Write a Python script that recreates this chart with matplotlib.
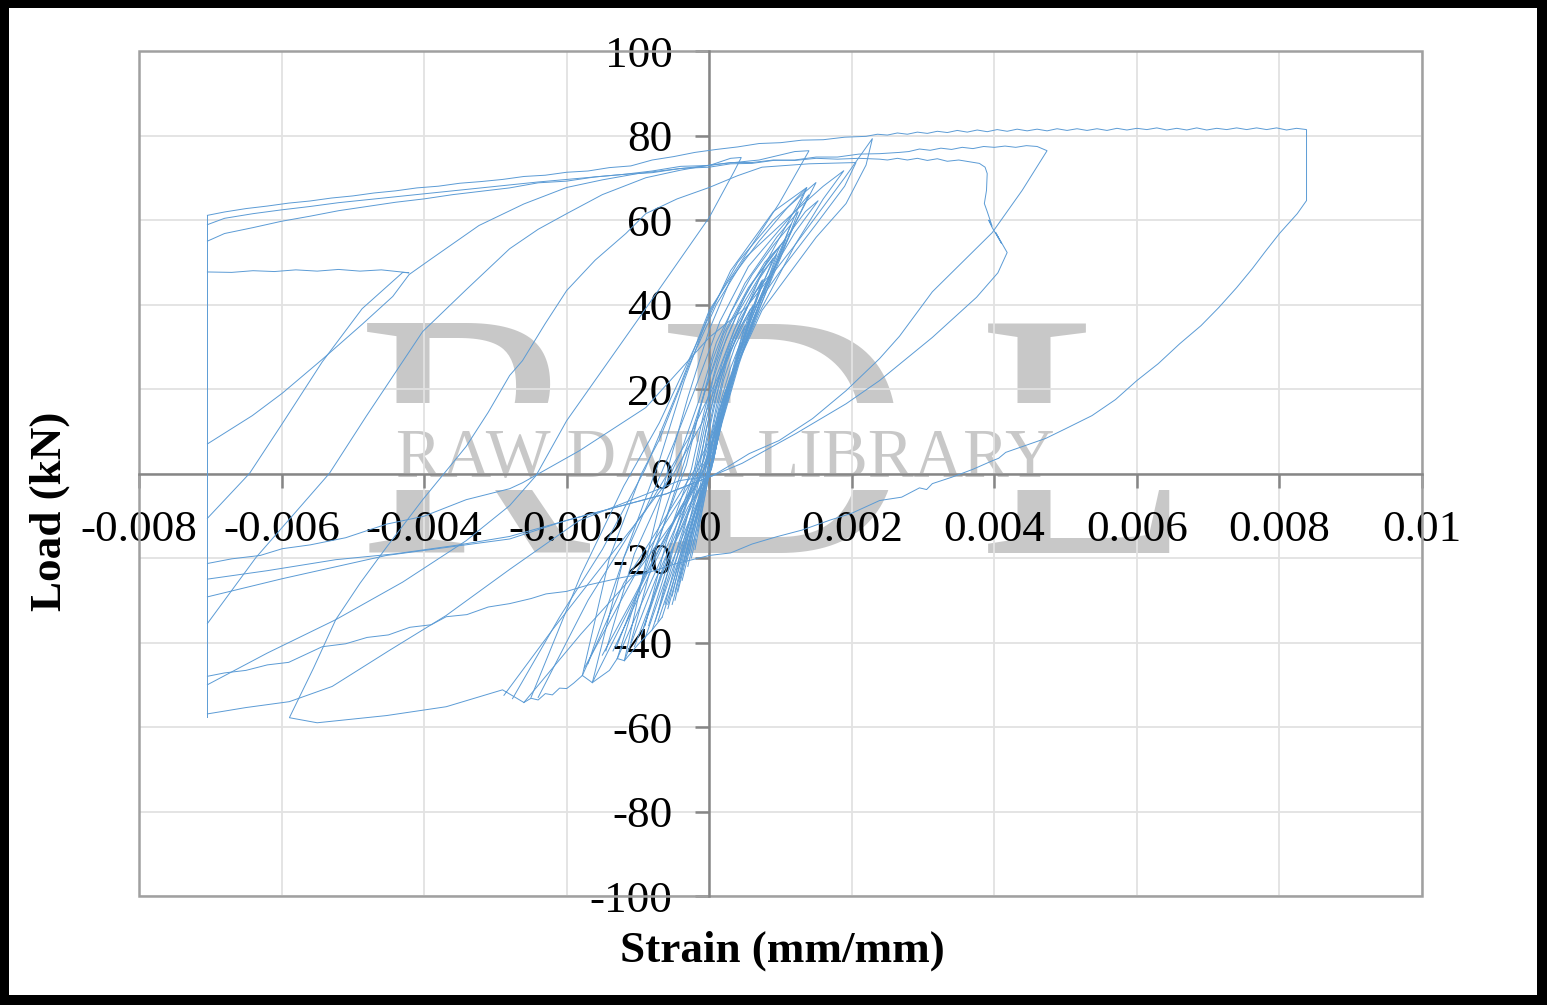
import matplotlib
matplotlib.use('Agg')
import matplotlib.pyplot as plt
from matplotlib.patches import Rectangle

W, H = 1547, 1005
LINE = '#5B9BD5'
MARK = '#C8C8C8'
SERIF = 'Liberation Serif'

x_ticks = [-0.008, -0.006, -0.004, -0.002, 0, 0.002, 0.004, 0.006, 0.008, 0.01]
x_tick_labels = ['-0.008', '-0.006', '-0.004', '-0.002', '0', '0.002', '0.004', '0.006', '0.008', '0.01']
y_ticks = [-100, -80, -60, -40, -20, 0, 20, 40, 60, 80, 100]
y_tick_labels = ['-100', '-80', '-60', '-40', '-20', '0', '20', '40', '60', '80', '100']

# strain below is in units of 1e-3 mm/mm, load in kN
# biggest excursion, ends on the top plateau
s_big = [-7.04, -6.8, -6.5, -6.2, -5.9, -5.43, -5.1, -4.8, -4.5, -4.2, -3.9, -3.69, -3.4, -3.1, -2.8, -2.5, -2.29, -2.0, -1.7, -1.22, -0.9, -0.5, 0, 0.3, 0.6, 0.94, 1.3, 1.7, 2.0, 2.39, 2.7, 2.95, 3.05, 3.13, 3.4, 3.7, 3.97, 4.06, 4.16, 4.72, 5.0, 5.37, 5.7, 6.0, 6.3, 6.6, 6.9, 7.15, 7.4, 7.62, 7.8, 8.0, 8.25, 8.38,
         8.38, 8.38, 8.24, 8.10, 7.96, 7.82, 7.68, 7.54, 7.40, 7.26, 7.12, 6.98, 6.84, 6.70, 6.56, 6.42, 6.28, 6.14, 6.00, 5.86, 5.72, 5.58, 5.44, 5.30, 5.16, 5.02, 4.88, 4.74, 4.60, 4.46, 4.32, 4.18, 4.04, 3.90, 3.76, 3.62, 3.48, 3.34, 3.20, 3.06, 2.92, 2.78, 2.64, 2.50, 2.36,
         2.2, 1.9, 1.6, 1.3, 1.0, 0.7, 0.4, 0.1, -0.2, -0.5, -0.8, -1.1, -1.4, -1.7, -2.0, -2.3, -2.6, -2.9, -3.2, -3.5, -3.8, -4.1, -4.4, -4.7, -5.0, -5.3, -5.6, -5.9, -6.2, -6.5, -6.8, -7.04]
l_big = [-48, -47.2, -46.6, -45.3, -44.7, -41, -40.3, -38.8, -38.2, -36.4, -35.8, -33.9, -33.4, -31.6, -30.8, -29.6, -28.5, -27.9, -26.4, -24.6, -23.7, -21.5, -19.4, -18.8, -16.7, -15, -13.4, -11, -9.4, -6.4, -5.6, -3.4, -3.8, -2.4, -0.9, 1, 3, 3.6, 5, 8.3, 10.6, 13.7, 17.5, 22, 26, 30.7, 35, 39.3, 44, 48.5, 52.5, 56.8, 61.5, 64.6,
         72, 81.4, 81.7, 81.3, 81.8, 81.4, 81.8, 81.4, 81.8, 81.4, 81.7, 81.3, 81.8, 81.3, 81.7, 81.3, 81.8, 81.4, 81.7, 81.3, 81.7, 81.2, 81.6, 81.2, 81.6, 81.2, 81.6, 81.1, 81.5, 81.1, 81.5, 81.0, 81.4, 80.9, 81.3, 80.8, 81.2, 80.7, 81.0, 80.5, 80.8, 80.3, 80.6, 80.1, 80.3,
         79.8, 79.6, 79.0, 78.9, 78.3, 78.1, 77.3, 76.7, 76.0, 75.0, 74.2, 72.8, 72.4, 71.6, 71.3, 70.6, 70.3, 69.6, 69.1, 68.7, 68.0, 67.6, 66.9, 66.4, 65.7, 65.2, 64.5, 64.0, 63.3, 62.7, 61.9, 61.1]

# vertical run at the strain limit
s_limit = [-7.04, -7.04]
l_limit = [61.1, -57.7]

# last loop, ends at the kinked curve and the third plateau
s_third = [-7.04, -6.5, -5.89, -5.29, -4.49, -3.69, -2.8, -1.82, -0.9, -0.42, 0.05, 0.46, 1.22, 1.92, 2.39, 3.13, 3.75, 4.05, 4.18, 4.02, 4.1, 3.97, 3.92, 3.97, 3.9, 3.86, 3.89, 3.9, 3.87, 3.79, 3.5, 3.34, 3.2, 3.06, 2.92, 2.78, 2.64, 2.5, 2.39, 2.1, 1.8, 1.5, 1.2, 0.9, 0.6, 0.3, 0, -0.4, -0.8, -1.2, -1.6, -2.0, -2.4, -2.8, -3.2, -3.6, -4.0, -4.4, -4.8, -5.2, -5.6, -6.0, -6.4, -6.8, -7.04]
l_third = [-56.9, -55.4, -54, -50.4, -41.9, -33.6, -22.7, -11.1, -5, -1.7, -0.5, 2.4, 9.5, 16.5, 22, 32.2, 41.7, 47.5, 52.3, 57, 54.5, 58.2, 60, 58.5, 62, 63.9, 67, 71, 72.5, 73.4, 74.2, 73.9, 74.5, 74.1, 74.6, 74.2, 74.6, 74.2, 74.4, 74.6, 74.4, 74.6, 74.1, 74.2, 73.6, 73.6, 72.9, 72.7, 71.6, 70.8, 70.2, 69.2, 68.8, 67.6, 66.8, 66.0, 65.0, 64.2, 63.2, 62.2, 60.9, 59.7, 58.2, 56.8, 55]

# second plateau coming off the 0.0047 peak
s_second = [-7.04, -6.2, -5.24, -4.4, -3.55, -2.8, -2.0, -1.2, -0.6, 0.05, 0.3, 0.56, 0.98, 1.45, 1.92, 2.39, 2.67, 3.13, 3.55, 3.97, 4.39, 4.74, 4.6, 4.45, 4.3, 4.15, 4.0, 3.85, 3.7, 3.55, 3.4, 3.25, 3.1, 2.95, 2.8, 2.67, 2.39, 2.1, 1.8, 1.5, 1.2, 0.9, 0.6, 0.3, 0, -0.4, -0.8, -1.2, -1.6, -2.0, -2.4, -2.8, -3.2, -3.6, -4.0, -4.4, -4.8, -5.2, -5.6, -6.0, -6.4, -6.8, -7.04]
l_second = [-25, -23, -20.4, -19, -17, -14.9, -11.1, -7.5, -4.8, -0.5, 2, 4.7, 7.8, 13, 19.6, 27.2, 32.5, 43, 50, 57, 67, 76.4, 77.4, 77.6, 77.2, 77.5, 77.2, 77.4, 76.9, 77.2, 76.7, 77.0, 76.5, 76.8, 76.2, 76, 75.7, 75.6, 74.9, 74.9, 74.2, 74.1, 73.4, 73.3, 72.5, 72.2, 71.2, 70.8, 70.2, 69.6, 69.0, 68.3, 67.6, 66.9, 66.2, 65.5, 64.8, 64.1, 63.2, 62.4, 61.5, 60.4, 58.9]

# shorter plateau at 48 kN and the peak that starts it
s_mid_peak = [-7.04, -6.45, -5.99, -5.43, -4.87, -4.3, -4.21, -4.6, -4.9, -5.2, -5.5, -5.8, -6.1, -6.4, -6.7, -7.04]
l_mid_peak = [-10.6, 0, 11.8, 26.4, 39, 47.6, 47.5, 48.2, 47.9, 48.3, 47.9, 48.2, 47.8, 48, 47.6, 47.7]
s_curve_1 = [-7.04, -6.41, -5.99, -5.43, -4.87, -4.44, -4.21, -3.9, -3.23, -2.6, -2, -1.5, -1, -0.5, 0, 0.3, 0.45, 0.35, 0, -0.98, -2, -2.43, -2.8, -3.41, -4.3, -5.24, -6.2, -7.04]
l_curve_1 = [7, 13.7, 19, 27, 35.3, 41.9, 47.1, 50.8, 58.7, 63.8, 67.7, 69.5, 71, 72, 72.9, 74.6, 74.8, 71.5, 60.6, 36.9, 12.5, -0.5, -7.6, -15.9, -25.7, -34.6, -42.5, -50]
s_curve_2 = [-7.04, -6.36, -5.33, -4.81, -4.02, -3.41, -2.8, -2.4, -2, -1.5, -0.89, -0.4, 0, 0.7, 1.2, 1.4, 0.98, 0, -0.42, -0.9, -1.5, -2.1, -2.76]
l_curve_2 = [-35.5, -19.9, 0, 13.6, 33.6, 43.5, 53.2, 57.8, 61.5, 66, 70, 71.8, 73, 74.2, 76.2, 76.4, 63.9, 38.6, 20.4, 1, -18, -34, -53.3]
s_curve_3 = [-2.6, -2.9, -3.69, -4.53, -5.5, -5.89, -5.55, -5.24, -4.9, -4.53, -4.02, -3.41, -3.1, -2.8, -2.62, -2.3, -2, -1.6, -1.17, -0.89, -0.45, 0, 0.4, 0.74, 1.4, 2.06, 1.9, 1.5, 1.0, 0.5, 0.1, -0.3, -0.9, -1.6, -2.2, -2.88]
l_curve_3 = [-54.2, -51.2, -55.2, -57.3, -59, -57.8, -46, -34.6, -26, -17.5, -6.2, 6.4, 14.5, 23.2, 26.7, 35.5, 43.3, 50.5, 56.8, 61.5, 65, 67.7, 70.5, 72.5, 73.3, 73.6, 68, 59, 48, 36, 22, 8, -9, -24, -37, -52.5]
s_peak_79 = [-7.04, -6.7, -6.3, -5.99, -5.6, -5.1, -4.53, -4.0, -3.41, -2.8, -2.62, -1.82, -0.89, 0, 0.52, 1.2, 1.9, 2.29, 2.2, 1.92, 1.5, 0.74, 0.42, 0.05, -0.4, -1, -1.8, -2.6]
l_peak_79 = [-21.3, -20.2, -19.4, -17.8, -16.9, -15.2, -12, -10.1, -6.2, -3.6, -2.2, 5.4, 15.6, 32.2, 39.3, 54, 70, 79.3, 73, 63.9, 55.9, 38.6, 26.7, 4.7, -9, -23, -38, -54.2]
s_third_line = [-7.04, -5.99, -4.53, -2.8, -2, -0.6, 0.05]
l_third_line = [-29.2, -24.9, -19.4, -15.5, -11.1, -4.8, -0.5]

# wiggly lower edge between the large and small bottom peaks
s_lower_edge = [-2.6, -2.5, -2.4, -2.3, -2.2, -2.1, -2.0, -1.9, -1.78, -1.64, -1.5, -1.4, -1.29, -1.19, -1.0, -0.8, -0.66]
l_lower_edge = [-54.2, -53.2, -53.6, -52.1, -52.4, -50.8, -50.9, -49.6, -47.8, -49.5, -47.8, -46.6, -43.8, -44.3, -40.5, -37, -34]

# small elastic loops that build the dark core
s_loop_1 = [-1.64, -1.0, -0.4, 0, 0.1, 0.35, 0.7, 1.2, 1.6, 1.89, 1.6, 1.2, 0.5, 0.1, -0.3, -0.7, -0.95, -1.4, -1.78]
l_loop_1 = [-49.5, -28, -8, 3, 9, 24, 38, 54, 65, 71.7, 68, 62, 51, 40, 25, 8, 0, -20, -47.8]
s_loop_2 = [-1.78, -1.2, -0.6, -0.2, 0.1, 0.4, 0.8, 1.2, 1.5, 1.3, 0.9, 0.4, 0, -0.35, -0.7, -1.2, -1.64]
l_loop_2 = [-47.8, -26, -10, 1, 11, 27, 44, 59, 68.9, 66, 60, 50, 38, 22, 3, -20, -49.5]
s_loop_3 = [-1.29, -0.8, -0.4, -0.1, 0.14, 0.4, 0.8, 1.1, 1.37, 1.1, 0.7, 0.3, 0, -0.3, -0.55, -0.85, -1.19]
l_loop_3 = [-43.8, -25, -10, 0, 12, 26, 43, 57, 67.7, 63, 55, 46, 34, 18, 3, -18, -44.3]
s_loop_4 = [-1.19, -0.75, -0.3, 0, 0.14, 0.3, 0.55, 0.85, 1.2, 1.53, 1.35, 1, 0.6, 0.25, -0.05, -0.3, -0.45, -0.85, -1.29]
l_loop_4 = [-44.3, -25, -8, 0.5, 12, 22, 35, 47, 57, 64.6, 62, 54, 45, 34, 20, 7, 0, -20, -43.8]
s_loop_5 = [-1.05, -0.65, -0.25, 0.02, 0.18, 0.42, 0.72, 1.08, 0.9, 0.55, 0.2, -0.05, -0.25, -0.4, -0.75, -1.1]
l_loop_5 = [-41, -23, -7, 1, 12, 26, 41, 55.6, 52, 44, 33, 20, 8, 0, -18, -40]
s_loop_6 = [-0.95, -0.6, -0.2, 0.03, 0.2, 0.42, 0.74, 0.95, 0.72, 0.4, 0.12, -0.08, -0.25, -0.6, -0.9]
l_loop_6 = [-38, -21, -6, 1, 14, 27, 42, 52, 47, 38, 27, 14, 1, -16, -36]
s_loop_7 = [-0.66, -0.4, -0.1, 0.05, 0.2, 0.4, 0.62, 0.85, 0.65, 0.35, 0.1, -0.05, -0.2, -0.45, -0.72]
l_loop_7 = [-34, -20, -4, 3, 15, 27, 38, 47, 43, 34, 23, 12, 0, -14, -33]
s_loop_8 = [-0.58, -0.35, -0.1, 0.06, 0.2, 0.38, 0.58, 0.74, 0.55, 0.28, 0.08, -0.05, -0.15, -0.38, -0.62]
l_loop_8 = [-32, -18, -4, 3, 15, 26, 37, 45.7, 40, 30, 19, 10, 0, -15, -31]
s_loop_9 = [-0.48, -0.28, -0.06, 0.07, 0.2, 0.34, 0.5, 0.62, 0.45, 0.22, 0.06, -0.04, -0.12, -0.3, -0.52]
l_loop_9 = [-30, -16, -3, 4, 15, 24, 33, 40, 35, 26, 16, 8, 0, -13, -29]
s_loop_10 = [-0.38, -0.2, -0.04, 0.07, 0.18, 0.3, 0.44, 0.3, 0.14, 0.04, -0.02, -0.08, -0.22, -0.42]
l_loop_10 = [-25.3, -13, -2, 5, 14, 22, 31, 25, 16, 8, 3, -1, -11, -25]
s_loop_11 = [-0.3, -0.15, -0.02, 0.07, 0.16, 0.26, 0.34, 0.22, 0.08, 0.01, -0.05, -0.17, -0.33]
l_loop_11 = [-22, -11, -1, 5, 13, 20, 25, 19, 10, 4, -1, -9, -21]
s_loop_12 = [-2.4, -1.7, -1.0, -0.5, -0.1, 0.3, 0.8, 1.37, 0.9, 0.3, -0.2, -0.7, -1.2, -1.8, -2.5]
l_loop_12 = [-53, -30, -11, 0, 12, 30, 50, 67.7, 62, 48, 30, 12, -3, -24, -53]
s_loop_13 = [-1.35, -0.9, -0.45, -0.12, 0.1, 0.3, 0.55, 0.85, 1.15, 0.9, 0.6, 0.3, 0.05, -0.15, -0.32, -0.7, -1.3]
l_loop_13 = [-42, -26, -10, -1, 10, 22, 35, 47, 59, 54, 47, 38, 27, 14, 2, -15, -41]
s_loop_14 = [-0.9, -0.55, -0.2, 0, 0.12, 0.27, 0.48, 0.75, 1.0, 0.78, 0.5, 0.24, 0.05, -0.1, -0.22, -0.55, -0.95]
l_loop_14 = [-39, -22, -8, 0, 9, 20, 32, 45, 54, 50, 42, 32, 22, 10, 0, -17, -38]
s_loop_15 = [-0.8, -0.48, -0.16, 0.02, 0.13, 0.25, 0.42, 0.66, 0.9, 0.7, 0.42, 0.18, 0.03, -0.08, -0.18, -0.48, -0.85]
l_loop_15 = [-37, -21, -7, 1, 9, 18, 29, 41, 51, 46, 37, 26, 16, 7, 0, -16, -36]
s_loop_16 = [-0.72, -0.42, -0.13, 0.03, 0.12, 0.22, 0.37, 0.56, 0.76, 0.58, 0.34, 0.14, 0.01, -0.07, -0.16, -0.42, -0.76]
l_loop_16 = [-35, -20, -6, 1, 8, 16, 26, 37, 46, 41, 32, 21, 11, 4, -2, -16, -35]
s_loop_17 = [-0.52, -0.3, -0.1, 0.02, 0.1, 0.18, 0.3, 0.44, 0.58, 0.42, 0.24, 0.1, 0, -0.06, -0.13, -0.33, -0.58]
l_loop_17 = [-31, -17, -5, 1, 8, 14, 22, 31, 39, 34, 26, 16, 7, 2, -3, -14, -31]
s_loop_18 = [-0.44, -0.25, -0.08, 0.02, 0.09, 0.16, 0.26, 0.38, 0.5, 0.36, 0.2, 0.08, 0, -0.05, -0.1, -0.27, -0.48]
l_loop_18 = [-28, -15, -4, 2, 8, 13, 20, 28, 35, 30, 22, 13, 6, 1, -3, -13, -28]
s_loop_19 = [-0.25, -0.12, -0.01, 0.06, 0.13, 0.22, 0.3, 0.18, 0.07, 0.01, -0.04, -0.14, -0.28]
l_loop_19 = [-20, -10, -1, 5, 12, 18, 23, 17, 9, 4, -1, -8, -19]
s_loop_20 = [-0.2, -0.1, 0, 0.05, 0.1, 0.17, 0.24, 0.14, 0.05, 0, -0.03, -0.11, -0.23]
l_loop_20 = [-18, -9, 0, 5, 10, 15, 20, 15, 8, 3, 0, -8, -17]
s_loop_21 = [-1.75, -1.3, -0.85, -0.4, -0.08, 0.2, 0.6, 1.0, 1.4, 1.05, 0.55, 0.15, -0.2, -0.5, -0.75, -1.2, -1.7]
l_loop_21 = [-46, -32, -18, -6, 3, 18, 36, 52, 66, 59, 49, 36, 20, 7, -3, -20, -45]
s_loop_22 = [-1.5, -1.05, -0.65, -0.3, -0.05, 0.22, 0.55, 1.0, 1.25, 0.95, 0.5, 0.1, -0.15, -0.4, -0.62, -1.05, -1.45]
l_loop_22 = [-43, -29, -16, -5, 3, 17, 33, 51, 62, 56, 45, 31, 17, 5, -3, -19, -42]

branches = [
    (s_big, l_big), (s_limit, l_limit), (s_third, l_third), (s_second, l_second),
    (s_mid_peak, l_mid_peak), (s_curve_1, l_curve_1), (s_curve_2, l_curve_2), (s_curve_3, l_curve_3),
    (s_peak_79, l_peak_79), (s_third_line, l_third_line), (s_lower_edge, l_lower_edge),
    (s_loop_1, l_loop_1), (s_loop_2, l_loop_2), (s_loop_3, l_loop_3), (s_loop_4, l_loop_4),
    (s_loop_5, l_loop_5), (s_loop_6, l_loop_6), (s_loop_7, l_loop_7), (s_loop_8, l_loop_8),
    (s_loop_9, l_loop_9), (s_loop_10, l_loop_10), (s_loop_11, l_loop_11), (s_loop_12, l_loop_12),
    (s_loop_13, l_loop_13), (s_loop_14, l_loop_14), (s_loop_15, l_loop_15), (s_loop_16, l_loop_16),
    (s_loop_17, l_loop_17), (s_loop_18, l_loop_18), (s_loop_19, l_loop_19), (s_loop_20, l_loop_20),
    (s_loop_21, l_loop_21), (s_loop_22, l_loop_22),
]

fig = plt.figure(figsize=(W / 100, H / 100), dpi=100, facecolor='black')
ax = fig.add_axes([139 / W, 1 - 896 / H, (1422 - 139) / W, (896 - 51) / H])
ax.patch.set_visible(False)

# white sheet inside the black frame
fig.add_artist(Rectangle((9 / W, 1 - 995 / H), 1528 / W, 987 / H, transform=fig.transFigure,
                         facecolor='white', edgecolor='none', zorder=-5))

# watermark sits behind the axes
for letter, px in [('R', 357), ('D', 658), ('L', 978)]:
    fig.text(px / W, 1 - 553 / H, letter, family=SERIF, fontsize=252, color=MARK,
             ha='left', va='baseline', zorder=-4)
fig.add_artist(Rectangle((300 / W, 1 - 490 / H), 950 / W, 87 / H, transform=fig.transFigure,
                         facecolor='white', edgecolor='none', zorder=-3))
fig.text(725 / W, 1 - 477 / H, 'RAW DATA LIBRARY', family=SERIF, fontsize=49.4, color=MARK,
         ha='center', va='baseline', zorder=-2)

ax.set_xlim(-0.008, 0.01)
ax.set_ylim(-100, 100)
ax.set_xticks(x_ticks)
ax.set_xticklabels(x_tick_labels)
ax.set_yticks(y_ticks)
ax.set_yticklabels(y_tick_labels)
ax.grid(True, color='#E2E2E2', linewidth=1.3, zorder=0)
ax.set_axisbelow(True)

ax.spines['left'].set_position(('data', 0))
ax.spines['bottom'].set_position(('data', 0))
ax.spines['top'].set_visible(False)
ax.spines['right'].set_visible(False)
for name in ['left', 'bottom']:
    ax.spines[name].set_color('#868686')
    ax.spines[name].set_linewidth(1.8)
ax.add_patch(Rectangle((0, 0), 1, 1, transform=ax.transAxes, fill=False,
                       edgecolor='#A0A0A0', linewidth=1.8, zorder=1, clip_on=False))
ax.tick_params(axis='both', direction='out', length=10, width=1.8, color='#868686',
               labelsize=32.5)
ax.tick_params(axis='y', pad=16.5)
ax.tick_params(axis='x', pad=16.5)
for label in ax.get_xticklabels() + ax.get_yticklabels():
    label.set_family(SERIF)

for strain, load in branches:
    ax.plot([v * 1e-3 for v in strain], load, color=LINE, linewidth=0.7, zorder=3,
            solid_joinstyle='miter')

fig.text(782 / W, 1 - 951 / H, 'Strain (mm/mm)', family=SERIF, fontsize=32.5, fontweight='bold',
         ha='center', va='center')
fig.text(50 / W, 1 - 511 / H, 'Load (kN)', family=SERIF, fontsize=32.5, fontweight='bold',
         rotation=90, ha='center', va='center')

fig.savefig('out.png', dpi=100, facecolor=fig.get_facecolor())
